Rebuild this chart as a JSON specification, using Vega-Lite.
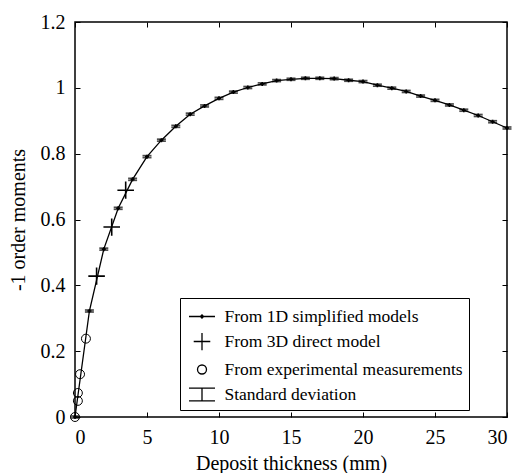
{
  "$schema": "https://vega.github.io/schema/vega-lite/v6.json",
  "width": 432,
  "height": 395,
  "autosize": {"type": "none"},
  "padding": {"left": 75, "top": 22, "right": 14, "bottom": 56},
  "background": "white",
  "config": {
    "font": "Liberation Serif",
    "view": {"stroke": "black", "strokeWidth": 1.5},
    "axis": {
      "domain": false,
      "grid": false,
      "tickColor": "black",
      "tickWidth": 1,
      "tickSize": -5,
      "labelColor": "black",
      "labelFontSize": 20,
      "labelFont": "Liberation Serif",
      "titleColor": "black",
      "titleFontSize": 20,
      "titleFont": "Liberation Serif",
      "titleFontWeight": "normal"
    }
  },
  "datasets": {
    "oned": [
      {"x": 0, "y": 0, "sd": 0.003},
      {"x": 1, "y": 0.322, "sd": 0.003},
      {"x": 2, "y": 0.51, "sd": 0.003},
      {"x": 3, "y": 0.634, "sd": 0.003},
      {"x": 4, "y": 0.722, "sd": 0.003},
      {"x": 5, "y": 0.791, "sd": 0.003},
      {"x": 6, "y": 0.841, "sd": 0.003},
      {"x": 7, "y": 0.883, "sd": 0.003},
      {"x": 8, "y": 0.92, "sd": 0.003},
      {"x": 9, "y": 0.945, "sd": 0.003},
      {"x": 10, "y": 0.968, "sd": 0.003},
      {"x": 11, "y": 0.987, "sd": 0.003},
      {"x": 12, "y": 1.001, "sd": 0.003},
      {"x": 13, "y": 1.012, "sd": 0.003},
      {"x": 14, "y": 1.022, "sd": 0.003},
      {"x": 15, "y": 1.026, "sd": 0.003},
      {"x": 16, "y": 1.029, "sd": 0.003},
      {"x": 17, "y": 1.029, "sd": 0.003},
      {"x": 18, "y": 1.028, "sd": 0.003},
      {"x": 19, "y": 1.023, "sd": 0.003},
      {"x": 20, "y": 1.019, "sd": 0.003},
      {"x": 21, "y": 1.008, "sd": 0.003},
      {"x": 22, "y": 0.999, "sd": 0.003},
      {"x": 23, "y": 0.989, "sd": 0.003},
      {"x": 24, "y": 0.975, "sd": 0.003},
      {"x": 25, "y": 0.962, "sd": 0.003},
      {"x": 26, "y": 0.948, "sd": 0.003},
      {"x": 27, "y": 0.932, "sd": 0.003},
      {"x": 28, "y": 0.916, "sd": 0.003},
      {"x": 29, "y": 0.897, "sd": 0.003},
      {"x": 30, "y": 0.878, "sd": 0.003}
    ],
    "threed": [
      {"x": 1.5, "y": 0.428},
      {"x": 2.55, "y": 0.577},
      {"x": 3.52, "y": 0.689}
    ],
    "exp": [
      {"x": 0, "y": 0},
      {"x": 0.2, "y": 0.049},
      {"x": 0.2, "y": 0.073},
      {"x": 0.35, "y": 0.13},
      {"x": 0.76, "y": 0.238}
    ]
  },
  "resolve": {"axis": {"x": "independent", "y": "independent"}},
  "layer": [
    {
      "data": {"name": "oned"},
      "mark": {"type": "line", "color": "black", "strokeWidth": 1.3},
      "encoding": {
        "x": {
          "field": "x", "type": "quantitative",
          "scale": {"domain": [0, 30], "nice": false, "zero": false},
          "axis": {"orient": "bottom", "values": [0, 5, 10, 15, 20, 25, 30], "labelPadding": 15, "titlePadding": 6, "title": "Deposit thickness (mm)"}
        },
        "y": {
          "field": "y", "type": "quantitative",
          "scale": {"domain": [0, 1.2], "nice": false},
          "axis": {"orient": "left", "values": [0, 0.2, 0.4, 0.6, 0.8, 1, 1.2], "format": "~g", "labelPadding": 15, "titlePadding": 12, "title": "-1 order moments"}
        }
      }
    },
    {
      "data": {"name": "oned"},
      "mark": {"type": "errorbar", "color": "black", "thickness": 1, "ticks": {"size": 9, "thickness": 1.7, "color": "black"}},
      "encoding": {
        "x": {"field": "x", "type": "quantitative", "axis": {"orient": "top", "values": [0, 5, 10, 15, 20, 25, 30], "labels": false, "title": null}},
        "y": {"field": "y", "type": "quantitative", "axis": {"orient": "right", "values": [0, 0.2, 0.4, 0.6, 0.8, 1, 1.2], "labels": false, "title": null}},
        "yError": {"field": "sd"}
      }
    },
    {
      "data": {"name": "oned"},
      "mark": {"type": "point", "filled": true, "color": "black", "size": 16, "opacity": 1, "shape": "cross"},
      "encoding": {
        "x": {"field": "x", "type": "quantitative", "axis": null},
        "y": {"field": "y", "type": "quantitative", "axis": null}
      }
    },
    {
      "data": {"name": "threed"},
      "mark": {"type": "point", "filled": false, "color": "black", "size": 529, "strokeWidth": 1.6, "opacity": 1},
      "encoding": {
        "x": {"field": "x", "type": "quantitative", "axis": null},
        "y": {"field": "y", "type": "quantitative", "axis": null},
        "shape": {
          "datum": "From 3D direct model",
          "type": "nominal",
          "scale": {
            "domain": ["From 1D simplified models", "From 3D direct model", "From experimental measurements", "Standard deviation"],
            "range": [
              "M-1.13,0L1.13,0M-0.14,0L0,-0.14L0.14,0L0,0.14Z",
              "M-0.72,0L0.72,0M0,-0.75L0,0.75",
              "M0.39,0A0.39,0.39,0,1,1,-0.39,0A0.39,0.39,0,1,1,0.39,0Z",
              "M-1.13,-0.55L1.13,-0.55M0,-0.55L0,0.55M-1.13,0.55L1.13,0.55"
            ]
          },
          "legend": {
            "orient": "none",
            "legendX": 105,
            "legendY": 276,
            "title": null,
            "strokeColor": "black",
            "fillColor": "white",
            "padding": 6,
            "rowPadding": 4,
            "symbolSize": 529,
            "symbolStrokeWidth": 1.3,
            "symbolStrokeColor": "black",
            "symbolFillColor": "transparent",
            "symbolOpacity": 1,
            "symbolOffset": 3.5,
            "labelOffset": 10,
            "labelFont": "Liberation Serif",
            "labelFontSize": 17.5,
            "labelColor": "black",
            "labelLimit": 400
          }
        }
      }
    },
    {
      "data": {"name": "exp"},
      "mark": {"type": "point", "filled": false, "color": "black", "size": 529, "strokeWidth": 1, "opacity": 1},
      "encoding": {
        "x": {"field": "x", "type": "quantitative", "axis": null},
        "y": {"field": "y", "type": "quantitative", "axis": null},
        "shape": {"datum": "From experimental measurements", "type": "nominal"}
      }
    }
  ]
}
